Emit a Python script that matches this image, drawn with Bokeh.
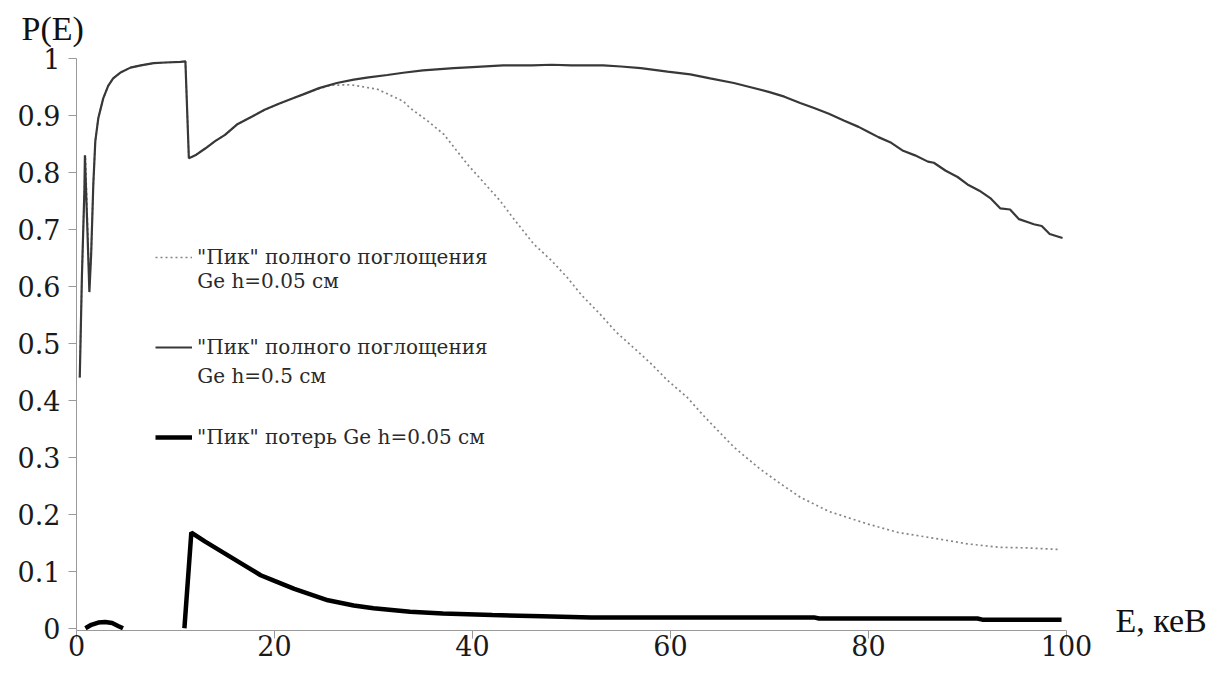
import numpy as np
from bokeh.plotting import figure
from bokeh.models import (Range1d, FixedTicker, Legend, LegendItem, Label, LinearAxis, Title)
from bokeh.embed import file_html
from bokeh.resources import INLINE

nan = np.nan

# "Пик" полного поглощения Ge h=0.5 см
e_thick_det = [0.33, 0.55, 0.8, 0.85, 1.1, 1.3, 1.48, 1.7, 1.9, 2.2, 2.7, 3.2, 3.7, 4.5, 5.45,
               6.5, 7.8, 9.0, 10.5, 11.0, 11.35, 12, 13, 14, 15, 16.2, 17.5, 19, 20.5, 22,
               22.9, 24.5, 26.3, 28, 29.5, 31.4, 33, 35, 38.1, 40, 43.1, 46, 48, 50, 53.2,
               55, 57, 59.7, 62, 64, 66.4, 68, 70, 71.5, 73.1, 74.5, 76, 77.5, 79, 79.9,
               81, 82.3, 83.5, 84.7, 86, 86.6, 87.8, 89, 90, 91.2, 92.3, 93.3, 94.3, 95.2,
               96.2, 96.7, 97.5, 98.3, 99.6]
p_thick_det = [0.44, 0.62, 0.77, 0.83, 0.70, 0.59, 0.656, 0.78, 0.855, 0.895, 0.93, 0.952,
               0.965, 0.976, 0.984, 0.988, 0.992, 0.993, 0.994, 0.995, 0.825, 0.83, 0.842,
               0.855, 0.866, 0.884, 0.896, 0.91, 0.921, 0.931, 0.937, 0.948, 0.957, 0.963,
               0.967, 0.971, 0.975, 0.979, 0.983, 0.985, 0.988, 0.988, 0.989, 0.988, 0.988,
               0.986, 0.983, 0.977, 0.972, 0.965, 0.957, 0.950, 0.941, 0.933, 0.922, 0.913,
               0.903, 0.891, 0.880, 0.872, 0.862, 0.852, 0.838, 0.830, 0.819, 0.817, 0.803,
               0.792, 0.779, 0.768, 0.755, 0.737, 0.735, 0.718, 0.712, 0.709, 0.706, 0.692,
               0.685]

# "Пик" полного поглощения Ge h=0.05 см
e_thin_det = [0.33, 0.55, 0.8, 0.9, 1.3, 1.48, 1.7, 1.9, 2.2, 2.7, 3.2, 3.7, 4.5, 5.45, 6.5,
              7.8, 9.0, 10.5, 11.0, 11.35, 12, 13, 14, 15, 16.2, 17.5, 19, 20.5, 22, 22.9,
              24.5, 25.7, 27.7, 30.4, 33.0, 33.7, 35.5, 37.1, 39.5, 41, 42.8, 44.1, 46.2, 48,
              49.6, 51, 52.9, 54.5, 56.3, 58, 59.7, 61.7, 63.5, 66.4, 69, 71, 73.1, 76,
              79.9, 83, 86.6, 90, 93.3, 96, 99.4]
p_thin_det = [0.44, 0.62, 0.77, 0.83, 0.60, 0.656, 0.78, 0.855, 0.895, 0.93, 0.952, 0.965,
              0.976, 0.984, 0.988, 0.992, 0.993, 0.994, 0.995, 0.825, 0.83, 0.842, 0.855,
              0.866, 0.884, 0.896, 0.91, 0.921, 0.931, 0.937, 0.947, 0.953, 0.954, 0.946,
              0.925, 0.913, 0.89, 0.867, 0.814, 0.785, 0.75, 0.72, 0.674, 0.645, 0.615,
              0.585, 0.551, 0.52, 0.492, 0.465, 0.435, 0.405, 0.37, 0.318, 0.28, 0.255,
              0.230, 0.205, 0.183, 0.168, 0.158, 0.148, 0.142, 0.141, 0.138]

# "Пик" потерь Ge h=0.05 см
e_escape = [0.9, 1.5, 2.2, 2.9, 3.6, 4.2, 4.7, nan, 10.9, 11.6, 13, 15, 17, 18.6, 20, 22,
            25.4, 28, 30, 33.7, 37, 42, 47, 52, 57, 62, 74.5, 75.0, 91.0, 91.5, 99.5]
p_escape = [0.0, 0.006, 0.010, 0.011, 0.009, 0.004, 0.0, nan, 0.0, 0.168, 0.152, 0.131,
            0.110, 0.093, 0.083, 0.069, 0.049, 0.040, 0.035, 0.029, 0.026, 0.023, 0.021,
            0.019, 0.019, 0.019, 0.019, 0.017, 0.017, 0.015, 0.015]

x_ticks = [0, 20, 40, 60, 80, 100]
y_ticks = [0, 0.1, 0.2, 0.3, 0.4, 0.5, 0.6, 0.7, 0.8, 0.9, 1]
legend_labels = ['"Пик" полного поглощения', '"Пик" полного поглощения',
                 '"Пик" потерь Ge h=0.05 см']
legend_second = ['Ge h=0.05 см', 'Ge h=0.5 см']
y_title = "P(E)"
x_title = "E, кеВ"

W, H = 1219, 690
p = figure(width=W, height=H, output_backend="svg", toolbar_location=None,
           x_range=Range1d(0, 100), y_range=Range1d(-0.004, 1),
           min_border_left=76, min_border_right=153, min_border_top=0,
           min_border_bottom=60)
p.outline_line_color = None
p.grid.visible = False
p.background_fill_color = "white"
p.title.visible = False

axis_col = "#9a9a9a"
tick_font = "DejaVu Serif"
for ax in (p.xaxis[0], p.yaxis[0]):
    ax.axis_line_color = axis_col
    ax.major_tick_line_color = axis_col
    ax.minor_tick_line_color = None
    ax.major_tick_in = 0
    ax.major_tick_out = 8
    ax.major_label_text_font = tick_font
    ax.major_label_text_font_size = "27px"
    ax.major_label_text_color = "#1a1a1a"
p.xaxis[0].ticker = FixedTicker(ticks=x_ticks)
p.yaxis[0].ticker = FixedTicker(ticks=y_ticks)
p.yaxis[0].major_label_overrides = {0: "0", 1: "1"}
p.xaxis[0].major_label_standoff = -4
p.yaxis[0].major_label_standoff = 8

# x-axis title as a single-tick label on a right-hand axis
rax = LinearAxis(ticker=FixedTicker(ticks=[0.014]),
                 major_label_overrides={0.014: x_title},
                 axis_line_color=None, major_tick_line_color=None,
                 minor_tick_line_color=None, major_tick_out=0, major_tick_in=0,
                 major_label_standoff=49, major_label_text_font="Liberation Serif",
                 major_label_text_font_size="34px", major_label_text_color="#111111")
p.add_layout(rax, "right")

# y-axis caption above the frame; spacer titles set the gaps
p.add_layout(Title(text=" ", text_font_size="8.5px", standoff=0), "above")
p.add_layout(Title(text=y_title, align="left", offset=-55, standoff=0,
                   text_font="Liberation Serif", text_font_size="34px",
                   text_font_style="normal", text_color="#111111"), "above")
p.add_layout(Title(text=" ", text_font_size="4.5px", standoff=0), "above")

r1 = p.line(e_thin_det, p_thin_det, line_color="#858585", line_width=1.7,
            line_dash="2 3")
r2 = p.line(e_thick_det, p_thick_det, line_color="#383838", line_width=2.2)
r3 = p.line(e_escape, p_escape, line_color="black", line_width=4.5)

legend = Legend(items=[LegendItem(label=legend_labels[0], renderers=[r1]),
                       LegendItem(label=legend_labels[1], renderers=[r2]),
                       LegendItem(label=legend_labels[2], renderers=[r3])],
                location=(79, 181), orientation="vertical",
                spacing=66, padding=0, margin=0,
                glyph_width=37, glyph_height=20, label_height=20,
                label_standoff=5,
                label_text_font=tick_font, label_text_font_size="20px",
                label_text_color="#2a2a2a",
                border_line_alpha=0, background_fill_alpha=0)
p.add_layout(legend, "center")

for txt, yv in zip(legend_second, [0.609, 0.442]):
    p.add_layout(Label(x=12.2, y=yv, text=txt, text_font=tick_font,
                       text_font_size="20px", text_color="#2a2a2a",
                       text_baseline="middle"))

open("out.html", "w").write(file_html(p, INLINE))
